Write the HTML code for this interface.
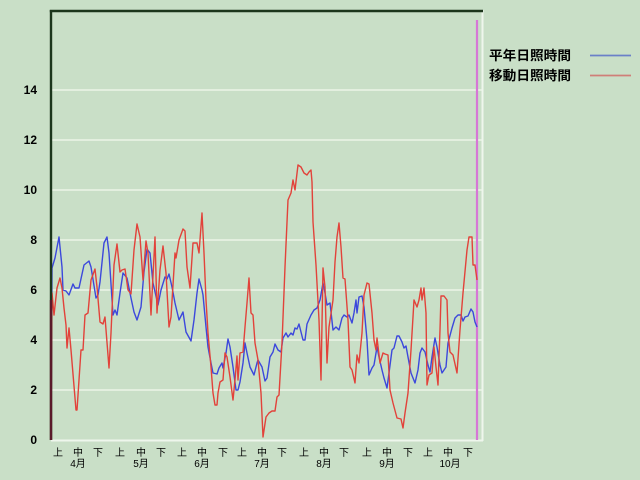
<!DOCTYPE html>
<html><head><meta charset="utf-8"><style>
html,body{margin:0;padding:0;background:#c9dfc7;}
svg{display:block;}
text{font-family:"Liberation Sans","Noto Sans CJK JP",sans-serif;fill:#000;}
</style></head><body>
<svg width="640" height="480" viewBox="0 0 640 480" xmlns="http://www.w3.org/2000/svg">
<rect x="0" y="0" width="640" height="480" fill="#c9dfc7"/>
<g stroke="#e3efdf" stroke-width="2">
<line x1="51" y1="390" x2="482" y2="390"/>
<line x1="51" y1="340" x2="482" y2="340"/>
<line x1="51" y1="290" x2="482" y2="290"/>
<line x1="51" y1="240" x2="482" y2="240"/>
<line x1="51" y1="190" x2="482" y2="190"/>
<line x1="51" y1="140" x2="482" y2="140"/>
<line x1="51" y1="90" x2="482" y2="90"/>
</g>
<line x1="51" y1="440.5" x2="483" y2="440.5" stroke="#eef6ec" stroke-width="2"/>
<line x1="482.5" y1="10" x2="482.5" y2="441" stroke="#eef6ec" stroke-width="2"/>
<line x1="477" y1="20" x2="477" y2="440" stroke="#d677d6" stroke-width="2.2"/>
<polyline fill="none" stroke="#3c48dc" stroke-width="1.4" stroke-linejoin="round" points="51,440 52,268 55,258 59,237 62,267 63,290 66,291 69,295 73,284 75,288 79,288 84,265 89,261 91,267 96,298 98,295 100,282 104,243 107,237 109,253 113,315 115,310 117,315 120,293 123,273 127,278 131,298 134,312 137,320 141,307 144,272 147,249 150,253 153,283 158,305 161,290 165,277 167,279 169,274 172,287 175,303 179,320 183,312 186,332 191,341 194,320 197,293 199,279 202,290 203,295 206,327 208,347 211,363 213,373 217,374 219,368 222,363 223,368 226,353 228,339 230,347 233,367 236,390 238,390 240,382 243,363 245,343 247,353 250,367 254,375 257,363 258,360 262,367 265,381 267,378 270,357 273,352 275,344 278,350 281,352 283,338 286,333 288,337 291,333 293,335 295,328 297,329 299,324 301,332 303,340 305,340 307,324 311,315 314,310 317,308 320,300 323,283 325,293 327,305 330,303 333,330 336,327 339,330 342,318 344,315 347,317 349,315 352,323 354,313 356,300 357,313 359,297 362,296 364,307 367,340 369,375 372,368 374,365 377,347 379,357 382,370 384,378 387,388 389,373 392,350 394,348 397,336 399,336 402,342 404,348 406,346 408,357 411,373 415,383 418,370 420,353 422,348 425,352 428,365 430,372 432,357 435,338 437,347 440,365 442,373 446,367 448,343 452,328 455,318 458,315 461,315 463,321 465,317 468,316 471,309 473,312 475,322 477,327"/>
<polyline fill="none" stroke="#e2423a" stroke-width="1.4" stroke-linejoin="round" points="51,440 52,293 54,315 57,288 60,278 62,288 64,308 66,325 67,348 69,328 71,350 76,410 77,410 81,350 83,350 85,315 88,313 91,280 95,269 97,287 100,322 103,324 105,317 109,368 111,333 114,265 117,244 120,272 122,270 125,269 128,290 131,294 134,250 137,224 140,237 143,280 146,241 148,253 151,315 155,237 157,313 160,270 163,246 166,273 169,327 171,317 175,253 176,258 179,240 183,229 185,231 187,267 190,288 193,243 197,243 199,253 202,213 204,253 206,300 208,333 211,367 213,393 215,405 217,405 218,393 220,382 223,380 225,353 227,357 230,377 233,400 235,380 237,356 238,380 240,353 243,352 245,327 247,303 249,278 251,313 253,315 255,343 258,360 261,393 263,437 266,417 269,413 272,411 275,411 277,397 279,395 282,343 285,267 288,200 291,193 293,180 295,190 298,165 301,167 304,173 307,175 309,172 311,170 312,182 313,222 316,265 319,320 321,380 323,268 325,287 327,363 329,327 333,300 335,262 337,237 339,223 341,247 343,278 345,279 348,320 350,367 352,370 355,383 357,355 359,363 362,333 364,295 367,283 369,284 372,313 374,340 376,350 377,338 380,363 383,353 385,354 388,355 390,390 393,403 397,418 401,419 403,428 405,413 408,393 411,350 413,317 414,300 417,307 419,300 421,288 422,300 424,288 426,313 427,385 429,375 432,373 434,347 436,367 438,385 440,330 441,296 444,296 447,300 448,333 450,352 453,355 457,373 460,330 463,293 467,250 469,237 472,237 473,265 475,265 477,280"/>
<line x1="51" y1="10" x2="51" y2="440" stroke="#1c361c" stroke-width="2.4"/>
<line x1="51" y1="300" x2="51" y2="440" stroke="#5a1a2a" stroke-width="2.4"/>
<line x1="49.8" y1="11" x2="483" y2="11" stroke="#1c361c" stroke-width="2.6"/>
<g font-size="12" font-weight="bold" text-anchor="end">
<text x="37" y="444">0</text>
<text x="37" y="394">2</text>
<text x="37" y="344">4</text>
<text x="37" y="294">6</text>
<text x="37" y="244">8</text>
<text x="37" y="194">10</text>
<text x="37" y="144">12</text>
<text x="37" y="94">14</text>
</g>
<g font-size="10" text-anchor="middle">
<text x="58" y="456">上</text><text x="78" y="456">中</text><text x="98" y="456">下</text>
<text x="120" y="456">上</text><text x="141" y="456">中</text><text x="161" y="456">下</text>
<text x="182" y="456">上</text><text x="202" y="456">中</text><text x="223" y="456">下</text>
<text x="242" y="456">上</text><text x="262" y="456">中</text><text x="282" y="456">下</text>
<text x="304" y="456">上</text><text x="324" y="456">中</text><text x="344" y="456">下</text>
<text x="367" y="456">上</text><text x="387" y="456">中</text><text x="408" y="456">下</text>
<text x="428" y="456">上</text><text x="448" y="456">中</text><text x="468" y="456">下</text>
</g>
<g font-size="10" text-anchor="middle">
<text x="78" y="467">4月</text>
<text x="141" y="467">5月</text>
<text x="202" y="467">6月</text>
<text x="262" y="467">7月</text>
<text x="324" y="467">8月</text>
<text x="387" y="467">9月</text>
<text x="450" y="467">10月</text>
</g>
<g font-size="13" font-weight="bold">
<text x="489" y="60" textLength="82" lengthAdjust="spacingAndGlyphs">平年日照時間</text>
<text x="489" y="80" textLength="82" lengthAdjust="spacingAndGlyphs">移動日照時間</text>
</g>
<line x1="590" y1="55.5" x2="631" y2="55.5" stroke="#6a80c8" stroke-width="1.8"/>
<line x1="590" y1="75.5" x2="631" y2="75.5" stroke="#cf7f78" stroke-width="1.8"/>
</svg>
</body></html>
